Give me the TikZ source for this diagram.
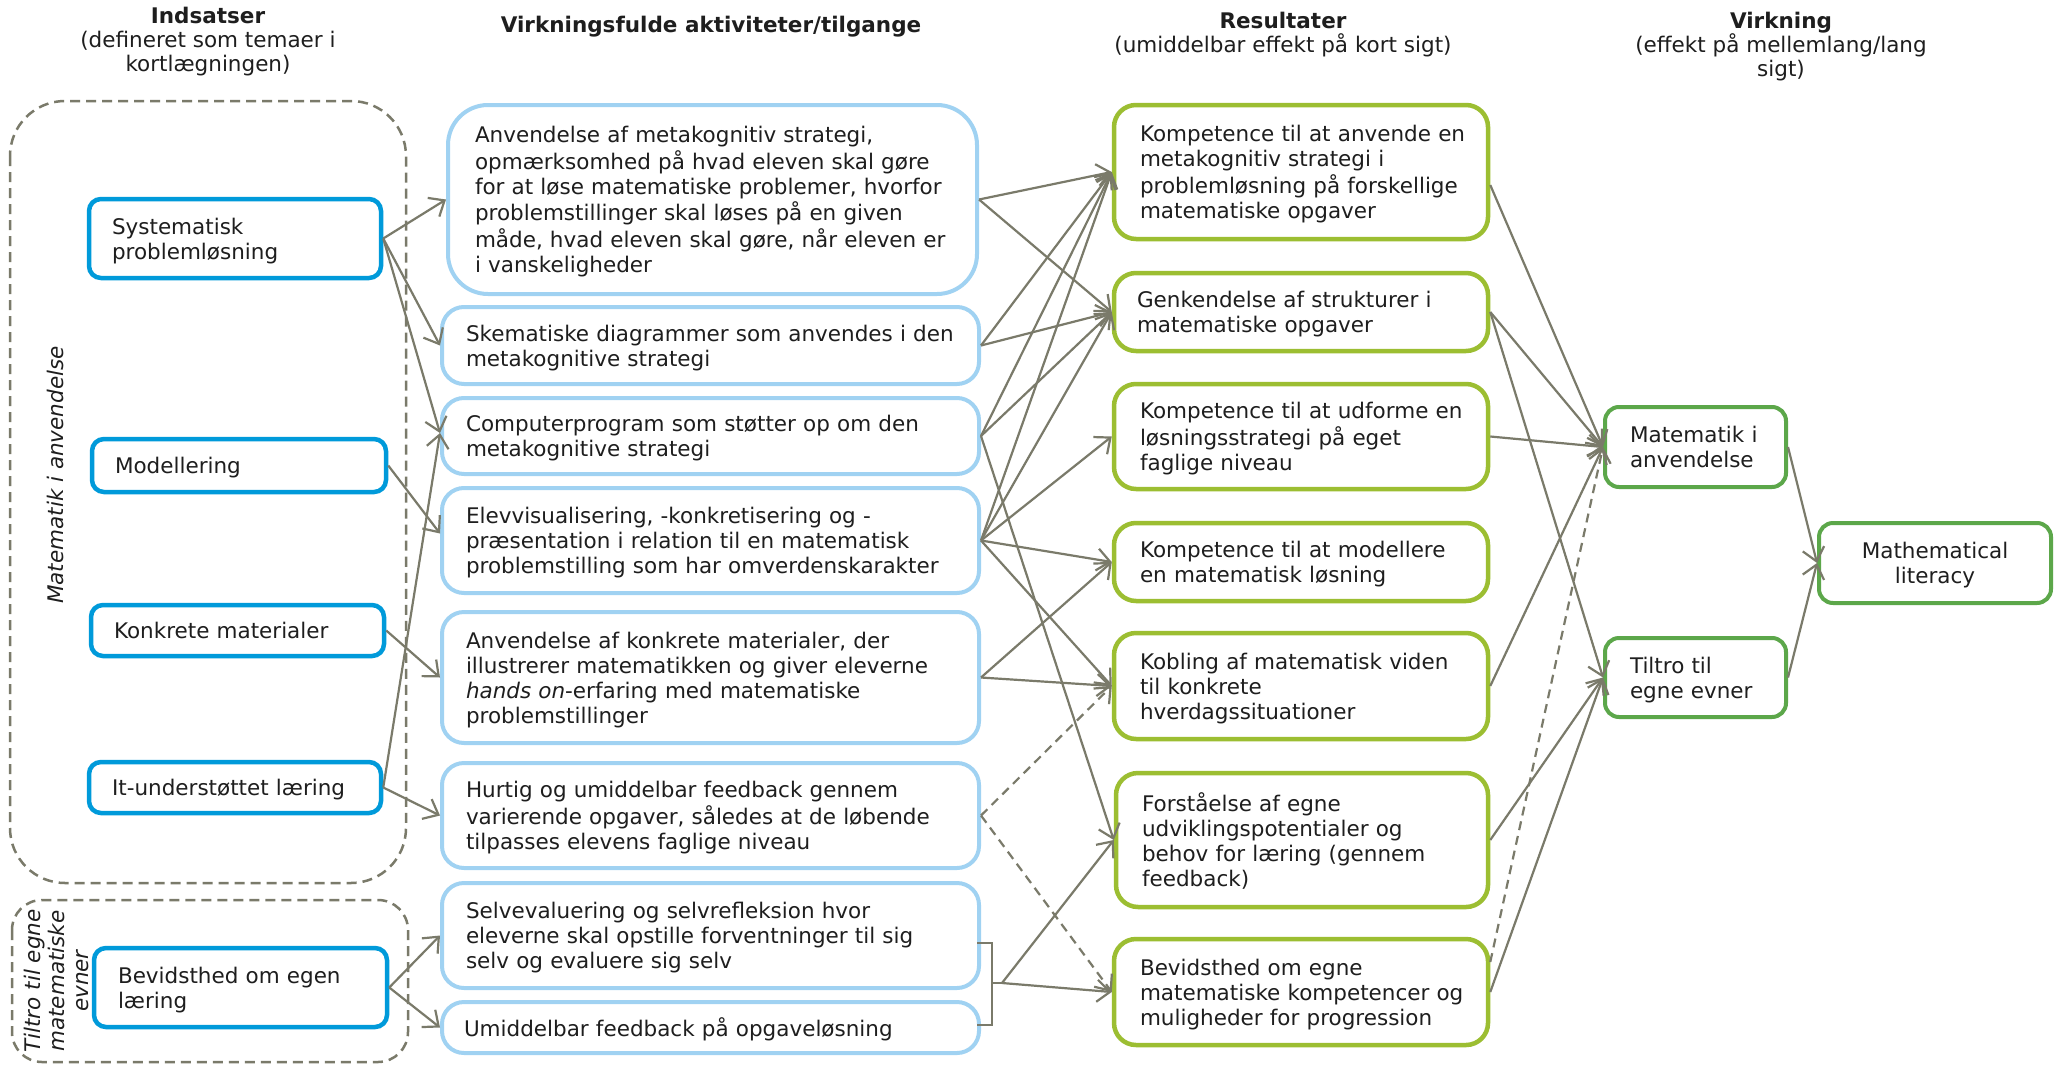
\documentclass[tikz,border=0pt]{standalone}
\usepackage{fontspec}
\setmainfont{DejaVu Sans}
\usetikzlibrary{arrows.meta,calc}

\definecolor{inblue}{RGB}{0,154,218}
\definecolor{actblue}{RGB}{160,210,242}
\definecolor{resgreen}{RGB}{156,190,50}
\definecolor{outgreen}{RGB}{92,167,74}
\definecolor{linec}{RGB}{122,122,106}
\definecolor{txt}{RGB}{30,30,30}

% blocks of lines that never rewrap, set slightly low for optical centring
\newcommand\boxlines[1]{\raisebox{-3pt}[\height][\depth]{\begin{tabular}{@{}l@{}}#1\end{tabular}}}
\newcommand\boxlinesc[1]{\raisebox{-3pt}[\height][\depth]{\begin{tabular}{@{}c@{}}#1\end{tabular}}}

\begin{document}
\begin{tikzpicture}[x=1pt,y=-1pt,
  base/.style={font=\fontsize{21.5}{25}\selectfont, text=txt, inner ysep=0pt},
  inbox/.style={base, draw=inblue, line width=4.5pt, rounded corners=12pt, inner xsep=23pt},
  actbox/.style={base, draw=actblue, line width=4pt, rounded corners=22pt, inner xsep=24pt},
  resbox/.style={base, draw=resgreen, line width=4.5pt, rounded corners=22pt, inner xsep=26pt},
  outbox/.style={base, draw=outgreen, line width=4pt, rounded corners=14pt, inner xsep=25pt},
  arr/.style={draw=linec, line width=2.2pt, -{Straight Barb[length=13pt,width=22pt]}},
  darr/.style={arr, dash pattern=on 9pt off 6pt},
  grp/.style={draw=linec, line width=2.5pt, dash pattern=on 10pt off 6pt},
  head/.style={base, align=center, font=\fontsize{21.5}{24}\selectfont},
]
\fill[white] (0,0) rectangle (2060,1065);
\useasboundingbox (0,0) rectangle (2060,1065);

% column headers
\node[head] (h1) at (208,42) {\textbf{Indsatser}\\(defineret som temaer i\\kortlægningen)};
\node[head] (h2) at (711,27) {\textbf{Virkningsfulde aktiviteter/tilgange}};
\node[head] (h3) at (1283,35) {\textbf{Resultater}\\(umiddelbar effekt på kort sigt)};
\node[head] (h4) at (1781,47) {\textbf{Virkning}\\(effekt på mellemlang/lang\\sigt)};

% dashed theme groups
\draw[grp, rounded corners=55pt] (10,101) rectangle (406,883);
\draw[grp, rounded corners=30pt] (12,900) rectangle (408,1062);
\node[base, rotate=90, font=\fontsize{21.5}{25}\selectfont\itshape] (g1) at (55,475) {Matematik i anvendelse};
\node[base, rotate=90, align=center, font=\fontsize{21.5}{24}\selectfont\itshape] (g2) at (56,981) {Tiltro til egne\\matematiske\\evner};

% inputs
\node[inbox, minimum width=292pt, minimum height=79pt, text width=246pt] (I1) at (235,238.5) {\boxlines{Systematisk\\problemløsning}};
\node[inbox, minimum width=294pt, minimum height=53pt, text width=248pt] (I2) at (239,465.5) {\boxlines{Modellering}};
\node[inbox, minimum width=293pt, minimum height=51pt, text width=247pt] (I3) at (237.5,630.5) {\boxlines{Konkrete materialer}};
\node[inbox, minimum width=292pt, minimum height=51pt, text width=246pt] (I4) at (235,787.5) {\boxlines{It-understøttet læring}};
\node[inbox, minimum width=293pt, minimum height=79pt, text width=245pt, inner xsep=24pt] (I5) at (240.5,987.5) {\boxlines{Bevidsthed om egen\\læring}};

% activities
\node[actbox, rounded corners=40pt, inner xsep=27pt, minimum width=529pt, minimum height=189pt, text width=475pt] (A1) at (712.5,199.5)
  {\boxlines{Anvendelse af metakognitiv strategi,\\opmærksomhed på hvad eleven skal gøre\\for at løse matematiske problemer, hvorfor\\problemstillinger skal løses på en given\\måde, hvad eleven skal gøre, når eleven er\\i vanskeligheder}};
\node[actbox, minimum width=537pt, minimum height=77pt, text width=489pt] (A2) at (710.5,345.5)
  {\boxlines{Skematiske diagrammer som anvendes i den\\metakognitive strategi}};
\node[actbox, minimum width=537pt, minimum height=76pt, text width=489pt] (A3) at (710.5,436)
  {\boxlines{Computerprogram som støtter op om den\\metakognitive strategi}};
\node[actbox, minimum width=537pt, minimum height=105pt, text width=489pt] (A4) at (710.5,540.5)
  {\boxlines{Elevvisualisering, -konkretisering og -\\præsentation i relation til en matematisk\\problemstilling som har omverdenskarakter}};
\node[actbox, minimum width=537pt, minimum height=131pt, text width=489pt] (A5) at (710.5,677.5)
  {\boxlines{Anvendelse af konkrete materialer, der\\illustrerer matematikken og giver eleverne\\\textit{hands on}-erfaring med matematiske\\problemstillinger}};
\node[actbox, minimum width=537pt, minimum height=105pt, text width=489pt] (A6) at (710.5,815.5)
  {\boxlines{Hurtig og umiddelbar feedback gennem\\varierende opgaver, således at de løbende\\tilpasses elevens faglige niveau}};
\node[actbox, minimum width=537pt, minimum height=105pt, text width=489pt] (A7) at (710.5,935.5)
  {\boxlines{Selvevaluering og selvrefleksion hvor\\eleverne skal opstille forventninger til sig\\selv og evaluere sig selv}};
\node[actbox, inner xsep=22pt, minimum width=537pt, minimum height=51pt, text width=493pt] (A8) at (710.5,1027.5)
  {\boxlines{Umiddelbar feedback på opgaveløsning}};

% results
\node[resbox, minimum width=374pt, minimum height=134pt, text width=322pt] (R1) at (1301,172)
  {\boxlines{Kompetence til at anvende en\\metakognitiv strategi i\\problemløsning på forskellige\\matematiske opgaver}};
\node[resbox, inner xsep=23pt, minimum width=374pt, minimum height=78pt, text width=328pt] (R2) at (1301,312)
  {\boxlines{Genkendelse af strukturer i\\matematiske opgaver}};
\node[resbox, minimum width=374pt, minimum height=105pt, text width=322pt] (R3) at (1301,436.5)
  {\boxlines{Kompetence til at udforme en\\løsningsstrategi på eget\\faglige niveau}};
\node[resbox, minimum width=374pt, minimum height=78pt, text width=322pt] (R4) at (1301,562)
  {\boxlines{Kompetence til at modellere\\en matematisk løsning}};
\node[resbox, minimum width=374pt, minimum height=106pt, text width=322pt] (R5) at (1301,686)
  {\boxlines{Kobling af matematisk viden\\til konkrete\\hverdagssituationer}};
\node[resbox, minimum width=372pt, minimum height=134pt, text width=320pt] (R6) at (1302,840)
  {\boxlines{Forståelse af egne\\udviklingspotentialer og\\behov for læring (gennem\\feedback)}};
\node[resbox, minimum width=374pt, minimum height=106pt, text width=322pt] (R7) at (1301,992)
  {\boxlines{Bevidsthed om egne\\matematiske kompetencer og\\muligheder for progression}};

% outcomes
\node[outbox, minimum width=181pt, minimum height=80pt, text width=131pt] (V1) at (1695.5,447)
  {\boxlines{Matematik i\\anvendelse}};
\node[outbox, minimum width=181pt, minimum height=79pt, text width=131pt] (V2) at (1695.5,677.5)
  {\boxlines{Tiltro til\\egne evner}};
\node[outbox, minimum width=232pt, minimum height=80pt] (ML) at (1935,563)
  {\boxlinesc{Mathematical\\literacy}};

% inputs -> activities
\draw[arr] (I1.east) -- (A1.west);
\draw[arr] (I1.east) -- (A2.west);
\draw[arr] (I1.east) -- ([yshift=3pt]A3.west);
\draw[arr] (I2.east) -- ([yshift=7pt]A4.west);
\draw[arr] (I3.east) -- (A5.west);
\draw[arr] (I4.east) -- ([yshift=3pt]A3.west);
\draw[arr] (I4.east) -- (A6.west);
\draw[arr] (I5.east) -- (A7.west);
\draw[arr] (I5.east) -- (A8.west);

% activities -> results
\draw[arr] (A1.east) -- (R1.west);
\draw[arr] (A1.east) -- (R2.west);
\draw[arr] (A2.east) -- (R1.west);
\draw[arr] (A2.east) -- (R2.west);
\draw[arr] (A3.east) -- (R1.west);
\draw[arr] (A3.east) -- (R2.west);
\draw[arr] (A3.east) -- (R6.west);
\draw[arr] (A4.east) -- (R1.west);
\draw[arr] (A4.east) -- (R2.west);
\draw[arr] (A4.east) -- (R3.west);
\draw[arr] (A4.east) -- (R4.west);
\draw[arr] (A4.east) -- (R5.west);
\draw[arr] (A5.east) -- (R4.west);
\draw[arr] (A5.east) -- (R5.west);
\draw[darr] (A6.east) -- (R5.west);
\draw[darr] (A6.east) -- (R7.west);

% bracket joining the two feedback activities
\coordinate (brk) at (1002,983);
\draw[draw=linec, line width=2.2pt] (977,943) -- (992,943) -- (992,1025) -- (977,1025);
\draw[draw=linec, line width=2.2pt] (992,983) -- (brk);
\draw[arr] (brk) -- (R6.west);
\draw[arr] (brk) -- (R7.west);

% results -> outcomes
\draw[arr] ([yshift=-13pt]R1.east) -- (V1.west);
\draw[arr] (R2.east) -- (V1.west);
\draw[arr] (R2.east) -- (V2.west);
\draw[arr] (R3.east) -- (V1.west);
\draw[arr] (R5.east) -- (V1.west);
\draw[arr] (R6.east) -- (V2.west);
\draw[arr] (R7.east) -- (V2.west);
\draw[darr] ([yshift=30pt]R7.east) -- (V1.west);

% outcomes -> literacy
\draw[arr] (V1.east) -- (ML.west);
\draw[arr] (V2.east) -- (ML.west);
\end{tikzpicture}
\end{document}
